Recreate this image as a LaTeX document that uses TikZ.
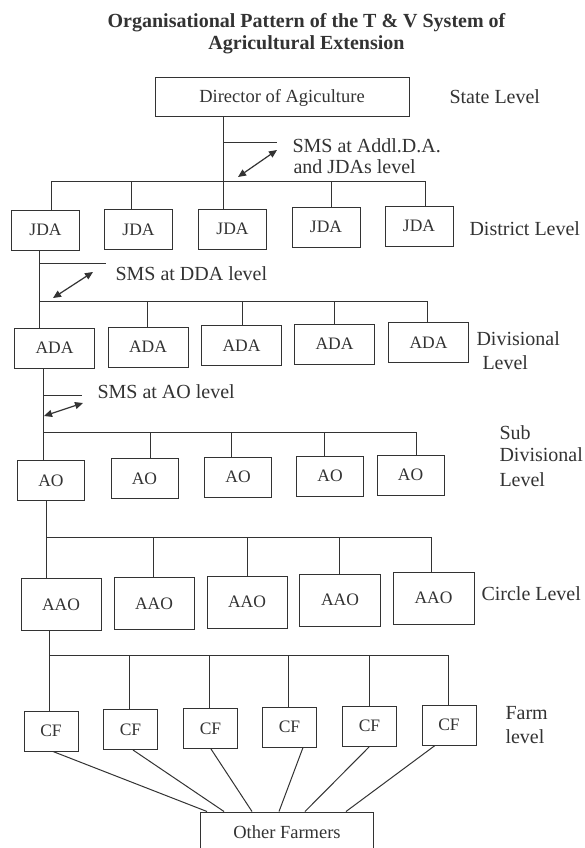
\documentclass[tikz,border=0pt]{standalone}
\usepackage{fontspec}
\setmainfont{Liberation Serif}
\usetikzlibrary{arrows.meta}
\definecolor{ink}{HTML}{333333}
\begin{document}
\begin{tikzpicture}[x=1pt,y=-1pt,color=ink,line width=1pt,
  box/.style={draw,rectangle,inner sep=0pt,minimum height=40pt,font=\fontsize{17.5}{20}\selectfont},
  bigbox/.style={box,font=\fontsize{18.5}{22}\selectfont},
  lvl/.style={anchor=base west,inner sep=0pt,font=\fontsize{20}{24}\selectfont},
  ttl/.style={anchor=base,inner sep=0pt,font=\fontsize{20}{24}\selectfont\bfseries},
  dbl/.style={line width=1.2pt,{Triangle[length=8pt,width=7pt]}-{Triangle[length=8pt,width=7pt]}}]
\fill[white] (0,0) rectangle (584,848);
\useasboundingbox (0,0) rectangle (584,848);

% title
\node[ttl] (t1) at (306.5,28) {Organisational Pattern of the T \& V System of};
\node[ttl] (t2) at (306.5,50) {Agricultural Extension};

% state level
\node[bigbox,minimum width=254pt,minimum height=39pt] (dir) at (282,97.5) {Director of Agiculture};
\node[lvl] (lstate) at (449,103) {State Level};

% district level
\node[box,minimum width=68pt] (jda1) at (45.5,230) {JDA};
\node[box,minimum width=68pt] (jda2) at (138.5,229.5) {JDA};
\node[box,minimum width=68pt] (jda3) at (232.5,229) {JDA};
\node[box,minimum width=68pt] (jda4) at (326,227) {JDA};
\node[box,minimum width=68pt] (jda5) at (419,226) {JDA};
\node[lvl] (ldist) at (469,235) {District Level};
\coordinate (jb1) at (51,181.5);
\coordinate (jb2) at (131,181.5);
\coordinate (jb3) at (223,181.5);
\coordinate (jb4) at (331,181.5);
\coordinate (jb5) at (425,181.5);
\draw (jb1 |- jda1.north) -- (jb1) -- (jb5) -- (jb5 |- jda5.north);
\draw (jb2) -- (jb2 |- jda2.north);
\draw (jb4) -- (jb4 |- jda4.north);
\draw (jb3 |- dir.south) -- (jb3 |- jda3.north);
\coordinate (s1) at (277,142.5);
\draw (jb3 |- s1) -- (s1);
\coordinate (a1s) at (238,177);
\coordinate (a1e) at (277,150);
\draw[dbl] (a1s) -- (a1e);
\node[lvl] (sms1a) at (292,152) {SMS at Addl.D.A.};
\node[lvl] (sms1b) at (293,173) {and JDAs level};

% divisional level
\node[box,minimum width=80pt] (ada1) at (54.5,348) {ADA};
\node[box,minimum width=80pt] (ada2) at (148,347) {ADA};
\node[box,minimum width=80pt] (ada3) at (241.5,345.5) {ADA};
\node[box,minimum width=80pt] (ada4) at (334.5,344) {ADA};
\node[box,minimum width=80pt] (ada5) at (428.5,342.5) {ADA};
\node[lvl] (ldiv1) at (476,345) {Divisional};
\node[lvl] (ldiv2) at (482,369) {Level};
\coordinate (ab1) at (39,301);
\coordinate (ab2) at (147,301);
\coordinate (ab3) at (242,301);
\coordinate (ab4) at (334,301);
\coordinate (ab5) at (427,301);
\draw (ab1 |- jda1.south) -- (ab1 |- ada1.north);
\draw (ab1) -- (ab5) -- (ab5 |- ada5.north);
\draw (ab2) -- (ab2 |- ada2.north);
\draw (ab3) -- (ab3 |- ada3.north);
\draw (ab4) -- (ab4 |- ada4.north);
\coordinate (s2) at (106,263);
\draw (ab1 |- s2) -- (s2);
\coordinate (a2s) at (53,298);
\coordinate (a2e) at (93,272);
\draw[dbl] (a2s) -- (a2e);
\node[lvl] (sms2) at (115,280) {SMS at DDA level};

% sub divisional level
\node[box,minimum width=67pt] (ao1) at (51,480.5) {AO};
\node[box,minimum width=67pt] (ao2) at (144.5,478.5) {AO};
\node[box,minimum width=67pt] (ao3) at (238,477) {AO};
\node[box,minimum width=67pt] (ao4) at (330,476) {AO};
\node[box,minimum width=67pt] (ao5) at (410.5,475) {AO};
\node[lvl] (lsub1) at (499,439) {Sub};
\node[lvl] (lsub2) at (499,461) {Divisional};
\node[lvl] (lsub3) at (499,486) {Level};
\coordinate (ob1) at (43,432);
\coordinate (ob2) at (150,432);
\coordinate (ob3) at (231,432);
\coordinate (ob4) at (324,432);
\coordinate (ob5) at (416,432);
\draw (ob1 |- ada1.south) -- (ob1 |- ao1.north);
\draw (ob1) -- (ob5) -- (ob5 |- ao5.north);
\draw (ob2) -- (ob2 |- ao2.north);
\draw (ob3) -- (ob3 |- ao3.north);
\draw (ob4) -- (ob4 |- ao4.north);
\coordinate (s3) at (82,395);
\draw (ob1 |- s3) -- (s3);
\coordinate (a3s) at (44,416);
\coordinate (a3e) at (83,403);
\draw[dbl] (a3s) -- (a3e);
\node[lvl] (sms3) at (97,398) {SMS at AO level};

% circle level
\node[box,minimum width=80pt,minimum height=52pt] (aao1) at (61,604.5) {AAO};
\node[box,minimum width=80pt,minimum height=52pt] (aao2) at (154,603.5) {AAO};
\node[box,minimum width=80pt,minimum height=52pt] (aao3) at (247,602) {AAO};
\node[box,minimum width=81pt,minimum height=52pt] (aao4) at (340,600) {AAO};
\node[box,minimum width=81pt,minimum height=52pt] (aao5) at (433.5,598) {AAO};
\node[lvl] (lcirc) at (481,600) {Circle Level};
\coordinate (cb1) at (46,537);
\coordinate (cb2) at (153,537);
\coordinate (cb3) at (247,537);
\coordinate (cb4) at (339,537);
\coordinate (cb5) at (431,537);
\draw (cb1 |- ao1.south) -- (cb1 |- aao1.north);
\draw (cb1) -- (cb5) -- (cb5 |- aao5.north);
\draw (cb2) -- (cb2 |- aao2.north);
\draw (cb3) -- (cb3 |- aao3.north);
\draw (cb4) -- (cb4 |- aao4.north);

% farm level
\node[box,minimum width=54pt] (cf1) at (51,731) {CF};
\node[box,minimum width=54pt] (cf2) at (130.5,729.5) {CF};
\node[box,minimum width=54pt] (cf3) at (210.5,728.5) {CF};
\node[box,minimum width=54pt] (cf4) at (289.5,727) {CF};
\node[box,minimum width=54pt] (cf5) at (369.5,726) {CF};
\node[box,minimum width=54pt] (cf6) at (449,725) {CF};
\node[lvl] (lfarm1) at (505,719) {Farm};
\node[lvl] (lfarm2) at (505,743) {level};
\coordinate (fb1) at (49,655);
\coordinate (fb2) at (129,655);
\coordinate (fb3) at (209,655);
\coordinate (fb4) at (288,655);
\coordinate (fb5) at (369,655);
\coordinate (fb6) at (448,655);
\draw (fb1 |- aao1.south) -- (fb1 |- cf1.north);
\draw (fb1) -- (fb6) -- (fb6 |- cf6.north);
\draw (fb2) -- (fb2 |- cf2.north);
\draw (fb3) -- (fb3 |- cf3.north);
\draw (fb4) -- (fb4 |- cf4.north);
\draw (fb5) -- (fb5 |- cf5.north);

% other farmers
\node[bigbox,anchor=base,minimum width=173pt,minimum height=0pt,text height=26pt,text depth=30pt] (other) at (287,838) {Other Farmers};
\draw ([xshift=2pt]cf1.south) -- ([xshift=-80pt]other.north);
\draw ([xshift=2.5pt]cf2.south) -- ([xshift=-63pt]other.north);
\draw ([xshift=0.5pt]cf3.south) -- ([xshift=-35pt]other.north);
\draw ([xshift=13.5pt]cf4.south) -- ([xshift=-8pt]other.north);
\draw ([xshift=0pt]cf5.south) -- ([xshift=18pt]other.north);
\draw ([xshift=-14pt]cf6.south) -- ([xshift=59pt]other.north);
\end{tikzpicture}
\end{document}
